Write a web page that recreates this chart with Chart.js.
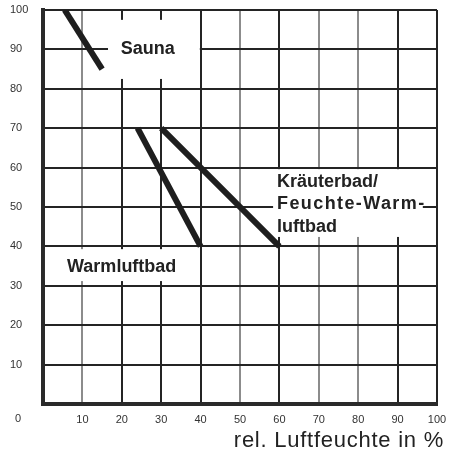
<!DOCTYPE html>
<html>
<head>
<meta charset="utf-8">
<script src="https://cdn.jsdelivr.net/npm/chart.js@4/dist/chart.umd.min.js"></script>
<style>
  html, body { margin: 0; padding: 0; background: #fff; }
  #wrap { width: 451px; height: 450px; }
</style>
</head>
<body>
<div id="wrap"><canvas id="grafica" width="451" height="450"></canvas></div>
<script>
// Badeformen: Temperatur (y) gegen relative Luftfeuchte (x)
const sauna = [{ x: 5.5, y: 100 }, { x: 15, y: 85 }];
const warmluftbad = [{ x: 24, y: 70 }, { x: 40, y: 40 }];
const kraeuterbad = [{ x: 30, y: 70 }, { x: 60, y: 40 }];

const xTicks = [10, 20, 30, 40, 50, 60, 70, 80, 90, 100];
const yTicks = [10, 20, 30, 40, 50, 60, 70, 80, 90, 100];

// weisse Kaesten mit Beschriftung (in Achsenwerten)
const kaesten = [
  { x0: 16.5, x1: 39.8, y0: 97.5, y1: 82.5, tx: 26.6, ty: [90.1], align: "center", zeilen: ["Sauna"] },
  { x0: 0.5, x1: 39.6, y0: 39.3, y1: 31.2, tx: 6.1, ty: [34.8], align: "left", zeilen: ["Warmluftbad"] },
  { x0: 58.4, x1: 96.4, y0: 59.6, y1: 42.4, tx: 59.4, ty: [56.3, 50.8, 44.9], align: "left",
    zeilen: ["Kräuterbad/", "Feuchte-Warm-", "luftbad"] }
];

const dunkel = "#242424";
const grau = "#8c8c8c";

const beschriftung = {
  id: "beschriftung",
  beforeDatasetsDraw(chart) {
    const { ctx, scales: { x, y } } = chart;
    ctx.save();
    kaesten.forEach(k => {
      const l = x.getPixelForValue(k.x0), r = x.getPixelForValue(k.x1);
      const t = y.getPixelForValue(k.y0), b = y.getPixelForValue(k.y1);
      ctx.fillStyle = "#fff";
      ctx.fillRect(l, t, r - l, b - t);
      ctx.fillStyle = "#222";
      ctx.font = "bold 18px 'Liberation Sans', Arial, sans-serif";
      ctx.textAlign = k.align;
      ctx.textBaseline = "middle";
      k.zeilen.forEach((z, i) => {
        ctx.letterSpacing = z === "Feuchte-Warm-" ? "1.4px" : "0px";
        ctx.fillText(z, x.getPixelForValue(k.tx), y.getPixelForValue(k.ty[i]));
      });
    });
    ctx.restore();
  },
  afterDraw(chart) {
    const { ctx, scales: { x, y } } = chart;
    ctx.save();
    ctx.fillStyle = "#333";
    ctx.textBaseline = "middle";
    ctx.font = "11px 'Liberation Sans', Arial, sans-serif";
    ctx.textAlign = "left";
    ctx.fillText("0", y.left + 5, x.top + 15);
    // Achsentitel rechtsbuendig unter der x-Achse
    ctx.font = "22px 'Liberation Sans', Arial, sans-serif";
    ctx.letterSpacing = "0.75px";
    ctx.textAlign = "right";
    ctx.textBaseline = "alphabetic";
    ctx.fillStyle = "#222";
    ctx.fillText("rel. Luftfeuchte in %", chart.width - 7, x.top + 43);
    ctx.restore();
  }
};

const linie = (data) => ({
  data,
  borderColor: "#1e1e1e",
  borderWidth: 6,
  borderCapStyle: "butt",
  pointRadius: 0,
  fill: false
});

new Chart(document.getElementById("grafica"), {
  type: "line",
  data: {
    datasets: [linie(sauna), linie(warmluftbad), linie(kraeuterbad)]
  },
  options: {
    responsive: false,
    animation: false,
    layout: { padding: { left: 10, top: 10, right: 14, bottom: 0 } },
    plugins: {
      legend: { display: false },
      tooltip: { enabled: false }
    },
    scales: {
      x: {
        type: "linear",
        min: 0,
        max: 100,
        afterFit: (s) => { s.height = 46; s.paddingRight = 0; },
        afterBuildTicks: (s) => { s.ticks = [0, ...xTicks].map(v => ({ value: v })); },
        border: { color: "#2a2a2a", width: 4 },
        grid: {
          drawTicks: false,
          lineWidth: 2,
          color: (c) => [10, 50, 70, 80].includes(c.tick && c.tick.value) ? grau : dunkel
        },
        ticks: {
          padding: 9,
          color: "#333",
          font: { family: "'Liberation Sans', Arial, sans-serif", size: 11 },
          callback: (v) => (v === 0 ? "" : v)
        }
      },
      y: {
        type: "linear",
        min: 0,
        max: 100,
        afterFit: (s) => { s.width = 33; },
        afterBuildTicks: (s) => { s.ticks = [0, ...yTicks].map(v => ({ value: v })); },
        border: { color: "#2a2a2a", width: 4 },
        grid: { drawTicks: false, lineWidth: 2, color: dunkel },
        ticks: {
          crossAlign: "far",
          color: "#333",
          font: { family: "'Liberation Sans', Arial, sans-serif", size: 11 },
          callback: (v) => (v === 0 ? "" : v)
        }
      }
    }
  },
  plugins: [beschriftung]
});
</script>
</body>
</html>
